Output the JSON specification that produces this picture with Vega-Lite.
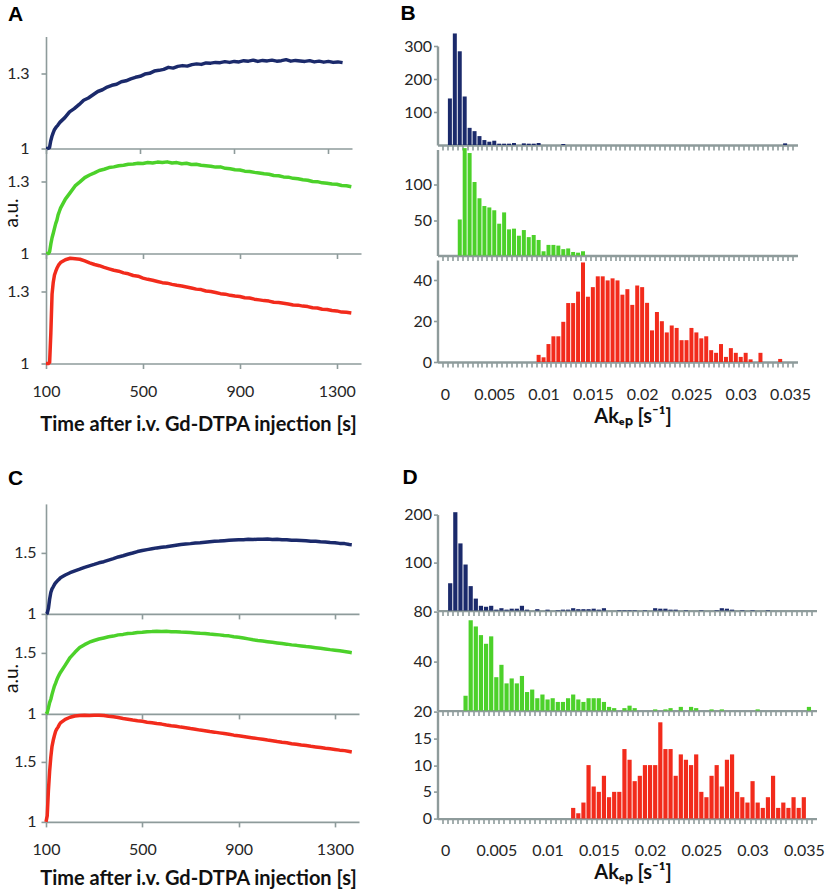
{
  "$schema": "https://vega.github.io/schema/vega-lite/v6.json",
  "padding": {"left": 2, "top": 2.5, "right": 0, "bottom": 0},
  "background": "white",
  "config": {
    "view": {"stroke": null},
    "font": "Lato",
    "axis": {"domainColor": "#8e9b9b", "tickColor": "#8e9b9b", "labelColor": "#262626", "labelFont": "Lato", "labelFontSize": 16, "grid": false, "labelFlush": false, "labelOverlap": false, "titleFont": "Lato", "titleColor": "#111", "domainWidth": 1.6, "tickWidth": 1.6}
  },
  "datasets": {
    "lA": [
      {"t":100,"n":1.000,"g":1.000,"r":1.000},{"t":105,"n":1.000,"g":1.000,"r":1.000},{"t":110,"n":1.001,"g":1.000,"r":1.000},{"t":115,"n":1.004,"g":1.008,"r":1.005},
      {"t":120,"n":1.030,"g":1.040,"r":1.128},{"t":125,"n":1.048,"g":1.066,"r":1.290},{"t":130,"n":1.062,"g":1.085,"r":1.340},{"t":135,"n":1.074,"g":1.105,"r":1.370},
      {"t":140,"n":1.081,"g":1.125,"r":1.385},{"t":145,"n":1.088,"g":1.140,"r":1.398},{"t":150,"n":1.093,"g":1.162,"r":1.408},{"t":155,"n":1.100,"g":1.176,"r":1.416},
      {"t":160,"n":1.106,"g":1.190,"r":1.422},{"t":180,"n":1.124,"g":1.228,"r":1.434},{"t":200,"n":1.147,"g":1.255,"r":1.440},{"t":220,"n":1.160,"g":1.283,"r":1.438},
      {"t":240,"n":1.176,"g":1.300,"r":1.436},{"t":260,"n":1.194,"g":1.318,"r":1.429},{"t":280,"n":1.203,"g":1.329,"r":1.421},{"t":300,"n":1.216,"g":1.338,"r":1.414},
      {"t":320,"n":1.229,"g":1.348,"r":1.409},{"t":340,"n":1.236,"g":1.353,"r":1.402},{"t":360,"n":1.247,"g":1.360,"r":1.396},{"t":380,"n":1.254,"g":1.363,"r":1.390},
      {"t":400,"n":1.258,"g":1.368,"r":1.386},{"t":420,"n":1.268,"g":1.370,"r":1.379},{"t":440,"n":1.272,"g":1.374,"r":1.375},{"t":460,"n":1.280,"g":1.375,"r":1.368},
      {"t":480,"n":1.286,"g":1.378,"r":1.365},{"t":500,"n":1.290,"g":1.377,"r":1.357},{"t":520,"n":1.299,"g":1.381,"r":1.352},{"t":540,"n":1.302,"g":1.379,"r":1.348},
      {"t":560,"n":1.311,"g":1.383,"r":1.343},{"t":580,"n":1.314,"g":1.381,"r":1.338},{"t":600,"n":1.318,"g":1.384,"r":1.336},{"t":620,"n":1.326,"g":1.379,"r":1.331},
      {"t":640,"n":1.323,"g":1.381,"r":1.327},{"t":660,"n":1.330,"g":1.376,"r":1.324},{"t":680,"n":1.333,"g":1.378,"r":1.320},{"t":700,"n":1.331,"g":1.373,"r":1.316},
      {"t":720,"n":1.337,"g":1.374,"r":1.311},{"t":740,"n":1.340,"g":1.370,"r":1.309},{"t":760,"n":1.338,"g":1.368,"r":1.303},{"t":780,"n":1.344,"g":1.366,"r":1.301},
      {"t":800,"n":1.343,"g":1.362,"r":1.297},{"t":820,"n":1.346,"g":1.363,"r":1.292},{"t":840,"n":1.345,"g":1.357,"r":1.290},{"t":860,"n":1.349,"g":1.355,"r":1.285},
      {"t":880,"n":1.346,"g":1.351,"r":1.282},{"t":900,"n":1.350,"g":1.350,"r":1.280},{"t":920,"n":1.348,"g":1.345,"r":1.275},{"t":940,"n":1.353,"g":1.344,"r":1.274},
      {"t":960,"n":1.351,"g":1.340,"r":1.269},{"t":980,"n":1.355,"g":1.337,"r":1.266},{"t":1000,"n":1.350,"g":1.334,"r":1.263},{"t":1020,"n":1.354,"g":1.332,"r":1.261},
      {"t":1040,"n":1.352,"g":1.327,"r":1.256},{"t":1060,"n":1.355,"g":1.326,"r":1.255},{"t":1080,"n":1.351,"g":1.321,"r":1.252},{"t":1100,"n":1.353,"g":1.320,"r":1.249},
      {"t":1120,"n":1.357,"g":1.315,"r":1.245},{"t":1140,"n":1.351,"g":1.313,"r":1.244},{"t":1160,"n":1.354,"g":1.309,"r":1.240},{"t":1180,"n":1.352,"g":1.307,"r":1.238},
      {"t":1200,"n":1.350,"g":1.302,"r":1.233},{"t":1220,"n":1.353,"g":1.301,"r":1.232},{"t":1240,"n":1.348,"g":1.296,"r":1.227},{"t":1260,"n":1.351,"g":1.294,"r":1.226},
      {"t":1280,"n":1.347,"g":1.291,"r":1.222},{"t":1300,"n":1.350,"g":1.290,"r":1.220},{"t":1320,"n":1.346,"g":1.285,"r":1.215},{"t":1340,"n":1.348,"g":1.284,"r":1.214},
      {"t":1360,"n":1.345,"g":1.280,"r":1.211}
    ],
    "lC": [
      {"t":100,"n":1.000,"g":1.000,"r":1.000},{"t":105,"n":1.005,"g":1.010,"r":1.050},{"t":110,"n":1.045,"g":1.050,"r":1.260},{"t":115,"n":1.120,"g":1.092,"r":1.420},
      {"t":120,"n":1.175,"g":1.120,"r":1.540},{"t":125,"n":1.205,"g":1.160,"r":1.630},{"t":130,"n":1.222,"g":1.195,"r":1.680},{"t":135,"n":1.240,"g":1.228,"r":1.720},
      {"t":140,"n":1.255,"g":1.252,"r":1.755},{"t":145,"n":1.265,"g":1.280,"r":1.775},{"t":150,"n":1.277,"g":1.302,"r":1.790},{"t":155,"n":1.285,"g":1.322,"r":1.810},
      {"t":160,"n":1.296,"g":1.340,"r":1.825},{"t":180,"n":1.318,"g":1.400,"r":1.855},{"t":200,"n":1.337,"g":1.462,"r":1.872},{"t":220,"n":1.352,"g":1.505,"r":1.882},
      {"t":240,"n":1.366,"g":1.544,"r":1.886},{"t":260,"n":1.381,"g":1.568,"r":1.888},{"t":280,"n":1.393,"g":1.588,"r":1.887},{"t":300,"n":1.405,"g":1.602,"r":1.889},
      {"t":320,"n":1.418,"g":1.614,"r":1.888},{"t":340,"n":1.427,"g":1.623,"r":1.886},{"t":360,"n":1.440,"g":1.632,"r":1.880},{"t":380,"n":1.452,"g":1.638,"r":1.876},
      {"t":400,"n":1.466,"g":1.648,"r":1.870},{"t":420,"n":1.476,"g":1.652,"r":1.862},{"t":440,"n":1.488,"g":1.660,"r":1.856},{"t":460,"n":1.498,"g":1.662,"r":1.849},
      {"t":480,"n":1.510,"g":1.668,"r":1.843},{"t":500,"n":1.518,"g":1.670,"r":1.838},{"t":520,"n":1.526,"g":1.674,"r":1.831},{"t":540,"n":1.533,"g":1.675,"r":1.826},
      {"t":560,"n":1.540,"g":1.678,"r":1.820},{"t":580,"n":1.546,"g":1.676,"r":1.815},{"t":600,"n":1.550,"g":1.677,"r":1.808},{"t":620,"n":1.556,"g":1.674,"r":1.802},
      {"t":640,"n":1.562,"g":1.674,"r":1.797},{"t":660,"n":1.568,"g":1.671,"r":1.790},{"t":680,"n":1.572,"g":1.670,"r":1.785},{"t":700,"n":1.575,"g":1.667,"r":1.778},
      {"t":720,"n":1.580,"g":1.664,"r":1.772},{"t":740,"n":1.583,"g":1.661,"r":1.765},{"t":760,"n":1.587,"g":1.660,"r":1.760},{"t":780,"n":1.591,"g":1.655,"r":1.753},
      {"t":800,"n":1.594,"g":1.652,"r":1.748},{"t":820,"n":1.596,"g":1.648,"r":1.742},{"t":840,"n":1.599,"g":1.643,"r":1.736},{"t":860,"n":1.602,"g":1.640,"r":1.730},
      {"t":880,"n":1.604,"g":1.633,"r":1.723},{"t":900,"n":1.606,"g":1.628,"r":1.718},{"t":920,"n":1.607,"g":1.622,"r":1.712},{"t":940,"n":1.610,"g":1.615,"r":1.706},
      {"t":960,"n":1.609,"g":1.608,"r":1.700},{"t":980,"n":1.611,"g":1.602,"r":1.694},{"t":1000,"n":1.610,"g":1.597,"r":1.688},{"t":1020,"n":1.612,"g":1.592,"r":1.682},
      {"t":1040,"n":1.608,"g":1.587,"r":1.677},{"t":1060,"n":1.610,"g":1.582,"r":1.670},{"t":1080,"n":1.606,"g":1.577,"r":1.664},{"t":1100,"n":1.607,"g":1.572,"r":1.659},
      {"t":1120,"n":1.603,"g":1.566,"r":1.652},{"t":1140,"n":1.602,"g":1.562,"r":1.647},{"t":1160,"n":1.600,"g":1.557,"r":1.641},{"t":1180,"n":1.598,"g":1.552,"r":1.636},
      {"t":1200,"n":1.595,"g":1.548,"r":1.630},{"t":1220,"n":1.594,"g":1.543,"r":1.625},{"t":1240,"n":1.590,"g":1.538,"r":1.620},{"t":1260,"n":1.588,"g":1.533,"r":1.613},
      {"t":1280,"n":1.584,"g":1.527,"r":1.609},{"t":1300,"n":1.582,"g":1.522,"r":1.604},{"t":1320,"n":1.577,"g":1.517,"r":1.598},{"t":1340,"n":1.575,"g":1.511,"r":1.594},
      {"t":1360,"n":1.568,"g":1.505,"r":1.587},{"t":1370,"n":1.566,"g":1.502,"r":1.583}
    ],
    "hB": [
      {"v":0.0005,"b":141,"g":0,"r":0},{"v":0.001,"b":338,"g":0,"r":0},{"v":0.0015,"b":284,"g":51,"r":0},{"v":0.002,"b":147,"g":152,"r":0},
      {"v":0.0025,"b":52,"g":145,"r":0},{"v":0.003,"b":42,"g":104,"r":0},{"v":0.0035,"b":27,"g":81,"r":0},{"v":0.004,"b":15,"g":70,"r":0},
      {"v":0.0045,"b":10,"g":68,"r":0},{"v":0.005,"b":13,"g":64,"r":0},{"v":0.0055,"b":4,"g":45,"r":0},{"v":0.006,"b":4,"g":61,"r":0},
      {"v":0.0065,"b":4,"g":37,"r":0},{"v":0.007,"b":6,"g":38,"r":0},{"v":0.0075,"b":0,"g":28,"r":0},{"v":0.008,"b":5,"g":36,"r":0},
      {"v":0.0085,"b":4,"g":26,"r":0},{"v":0.009,"b":4,"g":29,"r":0},{"v":0.0095,"b":6,"g":22,"r":3.5},{"v":0.01,"b":0,"g":6,"r":2.3},
      {"v":0.0105,"b":0,"g":15,"r":8.8},{"v":0.011,"b":0,"g":15,"r":12.6},{"v":0.0115,"b":0,"g":14,"r":12.6},{"v":0.012,"b":3,"g":9,"r":19.7},
      {"v":0.0125,"b":0,"g":10,"r":28.9},{"v":0.013,"b":0,"g":5,"r":28.9},{"v":0.0135,"b":0,"g":4,"r":34.5},{"v":0.014,"b":0,"g":6,"r":48.8},
      {"v":0.0145,"b":0,"g":0,"r":32},{"v":0.015,"b":0,"g":0,"r":36.7},{"v":0.0155,"b":0,"g":0,"r":42},{"v":0.016,"b":0,"g":0,"r":42},
      {"v":0.0165,"b":0,"g":0,"r":40},{"v":0.017,"b":0,"g":0,"r":41},{"v":0.0175,"b":0,"g":0,"r":40},{"v":0.018,"b":0,"g":0,"r":33},
      {"v":0.0185,"b":0,"g":0,"r":35.7},{"v":0.019,"b":0,"g":0,"r":28},{"v":0.0195,"b":0,"g":0,"r":37.5},{"v":0.02,"b":0,"g":0,"r":36.7},
      {"v":0.0205,"b":0,"g":0,"r":29},{"v":0.021,"b":0,"g":0,"r":15.5},{"v":0.0215,"b":0,"g":0,"r":24.5},{"v":0.022,"b":0,"g":0,"r":20},
      {"v":0.0225,"b":0,"g":0,"r":14.5},{"v":0.023,"b":0,"g":0,"r":17.9},{"v":0.0235,"b":0,"g":0,"r":16.7},{"v":0.024,"b":0,"g":0,"r":10.7},
      {"v":0.0245,"b":0,"g":0,"r":10.7},{"v":0.025,"b":0,"g":0,"r":16.7},{"v":0.0255,"b":0,"g":0,"r":14.5},{"v":0.026,"b":0,"g":0,"r":11.6},
      {"v":0.0265,"b":0,"g":0,"r":12.6},{"v":0.027,"b":0,"g":0,"r":5.8},{"v":0.0275,"b":0,"g":0,"r":4.5},{"v":0.028,"b":0,"g":0,"r":8.8},
      {"v":0.0285,"b":0,"g":0,"r":2.5},{"v":0.029,"b":0,"g":0,"r":6.8},{"v":0.0295,"b":0,"g":0,"r":4.5},{"v":0.03,"b":0,"g":0,"r":2.5},
      {"v":0.0305,"b":0,"g":0,"r":4.5},{"v":0.031,"b":0,"g":0,"r":1.3},{"v":0.032,"b":0,"g":0,"r":4.5},{"v":0.034,"b":0,"g":0,"r":1.5},
      {"v":0.0345,"b":5,"g":0,"r":0}
    ],
    "hD": [
      {"v":0.0005,"b":57,"g":0,"r":0},{"v":0.001,"b":205,"g":0,"r":0},{"v":0.0015,"b":140,"g":0,"r":0},{"v":0.002,"b":96,"g":12,"r":0},
      {"v":0.0025,"b":51,"g":73,"r":0},{"v":0.003,"b":25,"g":68,"r":0},{"v":0.0035,"b":10,"g":61,"r":0},{"v":0.004,"b":8,"g":54,"r":0},
      {"v":0.0045,"b":10,"g":60,"r":0},{"v":0.005,"b":2,"g":27,"r":0},{"v":0.0055,"b":5,"g":37,"r":0},{"v":0.006,"b":2,"g":22,"r":0},
      {"v":0.0065,"b":4,"g":26,"r":0},{"v":0.007,"b":4,"g":22,"r":0},{"v":0.0075,"b":10,"g":28,"r":0},{"v":0.008,"b":2,"g":15,"r":0},
      {"v":0.0085,"b":0,"g":17,"r":0},{"v":0.009,"b":3,"g":10,"r":0},{"v":0.0095,"b":0,"g":13,"r":0},{"v":0.01,"b":2,"g":9,"r":0},
      {"v":0.0105,"b":0,"g":10,"r":0},{"v":0.011,"b":1,"g":7,"r":0},{"v":0.0115,"b":2,"g":7,"r":0},{"v":0.012,"b":2,"g":10,"r":0},
      {"v":0.0125,"b":5,"g":13,"r":2},{"v":0.013,"b":3,"g":9,"r":1},{"v":0.0135,"b":3,"g":7,"r":3},{"v":0.014,"b":3,"g":10,"r":10},
      {"v":0.0145,"b":4,"g":10,"r":6},{"v":0.015,"b":2,"g":10,"r":5},{"v":0.0155,"b":5,"g":7,"r":8},{"v":0.016,"b":0,"g":3,"r":4},
      {"v":0.0165,"b":0,"g":2,"r":5},{"v":0.017,"b":1,"g":0,"r":5},{"v":0.0175,"b":1,"g":2,"r":13},{"v":0.018,"b":1,"g":4,"r":11},
      {"v":0.0185,"b":1,"g":2,"r":7},{"v":0.019,"b":0,"g":0,"r":8},{"v":0.0195,"b":1,"g":0,"r":10},{"v":0.02,"b":0,"g":0,"r":10},
      {"v":0.0205,"b":5,"g":1,"r":10},{"v":0.021,"b":4,"g":0,"r":18},{"v":0.0215,"b":4,"g":1,"r":13},{"v":0.022,"b":2,"g":2,"r":13},
      {"v":0.0225,"b":2,"g":0,"r":8},{"v":0.023,"b":0,"g":3,"r":12},{"v":0.0235,"b":1,"g":0,"r":11},{"v":0.024,"b":0,"g":3,"r":10},
      {"v":0.0245,"b":0,"g":2,"r":12},{"v":0.025,"b":1,"g":0,"r":5},{"v":0.0255,"b":0,"g":0,"r":4},{"v":0.026,"b":0,"g":1,"r":8},
      {"v":0.0265,"b":1,"g":0,"r":10},{"v":0.027,"b":5,"g":1,"r":6},{"v":0.0275,"b":4,"g":0,"r":11},{"v":0.028,"b":2,"g":0,"r":12},
      {"v":0.0285,"b":0,"g":0,"r":5},{"v":0.029,"b":1,"g":0,"r":4},{"v":0.0295,"b":0,"g":0,"r":3},{"v":0.03,"b":1,"g":0,"r":7},
      {"v":0.0305,"b":0,"g":1,"r":3},{"v":0.031,"b":0,"g":0,"r":2},{"v":0.0315,"b":1,"g":0,"r":4},{"v":0.032,"b":0,"g":0,"r":8},
      {"v":0.0325,"b":0,"g":0,"r":2},{"v":0.033,"b":0,"g":0,"r":3},{"v":0.0335,"b":0,"g":0,"r":2},{"v":0.034,"b":0,"g":0,"r":4},
      {"v":0.0345,"b":0,"g":0,"r":2},{"v":0.035,"b":0,"g":0,"r":4},{"v":0.0355,"b":0,"g":3,"r":0}
    ]
  },
  "spacing": 39.5,
  "hconcat": [
    {
      "spacing": 33.4,
      "vconcat": [
        {
          "spacing": 0, "bounds": "flush",
          "vconcat": [
            {
              "width": 306, "height": 112,
              "title": {"text": "A", "anchor": "start", "frame": "group", "dx": -38, "offset": 12, "font": "Liberation Sans", "fontSize": 21, "fontWeight": "bold", "color": "#000"},
              "data": {"name": "lA"},
              "mark": {"type": "line", "color": "#1b2a6b", "strokeWidth": 3.5, "strokeJoin": "round"},
              "encoding": {
                "x": {"field": "t", "type": "quantitative", "scale": {"domain": [100, 1400]}, "axis": {"values": [100, 500, 900, 1300], "labels": false, "title": null, "tickSize": 5}},
                "y": {"field": "n", "type": "quantitative", "scale": {"domain": [1, 1.45], "zero": false}, "axis": {"values": [1, 1.3], "format": "~g", "title": null, "tickSize": 5, "labelPadding": 12}}
              }
            },
            {
              "width": 315, "height": 105,
              "data": {"name": "lA"},
              "mark": {"type": "line", "color": "#4cd12a", "strokeWidth": 3.5, "strokeJoin": "round"},
              "encoding": {
                "x": {"field": "t", "type": "quantitative", "scale": {"domain": [100, 1400]}, "axis": {"values": [100, 500, 900, 1300], "labels": false, "title": null, "tickSize": 5}},
                "y": {"field": "g", "type": "quantitative", "scale": {"domain": [1, 1.44], "zero": false}, "axis": {"values": [1, 1.3], "format": "~g", "title": "a.u.", "titleFontWeight": "normal", "titleFontSize": 19, "titleX": -25, "titleY": 64, "tickSize": 5, "labelPadding": 12}}
              }
            },
            {
              "width": 315, "height": 110,
              "data": {"name": "lA"},
              "mark": {"type": "line", "color": "#f22b1c", "strokeWidth": 3.5, "strokeJoin": "round"},
              "encoding": {
                "x": {"field": "t", "type": "quantitative", "scale": {"domain": [100, 1400]}, "axis": {"values": [100, 500, 900, 1300], "format": "d", "title": "Time after i.v. Gd-DTPA injection [s]", "titleFontSize": 20, "titleFontWeight": "bold", "titlePadding": 15, "titleX": 152, "tickSize": 5, "labelPadding": 15}},
                "y": {"field": "r", "type": "quantitative", "scale": {"domain": [1, 1.46], "zero": false}, "axis": {"values": [1, 1.3], "format": "~g", "title": null, "tickSize": 5, "labelPadding": 12}}
              }
            }
          ]
        },
        {
          "spacing": 0, "bounds": "flush",
          "vconcat": [
            {
              "width": 313, "height": 110,
              "title": {"text": "C", "anchor": "start", "frame": "group", "dx": -38, "offset": 15, "font": "Liberation Sans", "fontSize": 21, "fontWeight": "bold", "color": "#000"},
              "data": {"name": "lC"},
              "mark": {"type": "line", "color": "#1b2a6b", "strokeWidth": 3.5, "strokeJoin": "round"},
              "encoding": {
                "x": {"field": "t", "type": "quantitative", "scale": {"domain": [100, 1400]}, "axis": {"values": [100, 500, 900, 1300], "labels": false, "title": null, "tickSize": 5}},
                "y": {"field": "n", "type": "quantitative", "scale": {"domain": [1, 1.9], "zero": false}, "axis": {"values": [1, 1.5], "format": "~g", "title": null, "tickSize": 5, "labelPadding": 5}}
              }
            },
            {
              "width": 313, "height": 100,
              "data": {"name": "lC"},
              "mark": {"type": "line", "color": "#4cd12a", "strokeWidth": 3.5, "strokeJoin": "round"},
              "encoding": {
                "x": {"field": "t", "type": "quantitative", "scale": {"domain": [100, 1400]}, "axis": {"values": [100, 500, 900, 1300], "labels": false, "title": null, "tickSize": 5}},
                "y": {"field": "g", "type": "quantitative", "scale": {"domain": [1, 1.82], "zero": false}, "axis": {"values": [1, 1.5], "format": "~g", "title": "a.u.", "titleFontWeight": "normal", "titleFontSize": 19, "titleX": -25, "titleY": 64, "tickSize": 5, "labelPadding": 5}}
              }
            },
            {
              "width": 313, "height": 108,
              "data": {"name": "lC"},
              "mark": {"type": "line", "color": "#f22b1c", "strokeWidth": 3.5, "strokeJoin": "round"},
              "encoding": {
                "x": {"field": "t", "type": "quantitative", "scale": {"domain": [100, 1400]}, "axis": {"values": [100, 500, 900, 1300], "format": "d", "title": "Time after i.v. Gd-DTPA injection [s]", "titleFontSize": 20, "titleFontWeight": "bold", "titlePadding": 11, "titleX": 152, "tickSize": 5, "labelPadding": 15}},
                "y": {"field": "r", "type": "quantitative", "scale": {"domain": [1, 1.9], "zero": false}, "axis": {"values": [1, 1.5], "format": "~g", "title": null, "tickSize": 5, "labelPadding": 5}}
              }
            }
          ]
        }
      ]
    },
    {
      "spacing": 40.1,
      "vconcat": [
        {
          "spacing": 4.5, "bounds": "flush",
          "vconcat": [
            {
              "width": 360, "height": 4.6,
              "title": {"text": "B", "anchor": "start", "frame": "group", "dx": -37, "offset": 13, "font": "Liberation Sans", "fontSize": 21, "fontWeight": "bold", "color": "#000"},
              "data": {"values": []},
              "mark": {"type": "point", "opacity": 0}
            },
            {
              "width": 360, "height": 99,
              "data": {"name": "hB"},
              "mark": {"type": "bar", "orient": "vertical", "width": 4, "color": "#1b2a6b"},
              "encoding": {
                "x": {"field": "v", "type": "quantitative", "scale": {"domain": [-0.00025, 0.03525]}, "axis": {"values": [-0.00025,0.00025,0.00075,0.00125,0.00175,0.00225,0.00275,0.00325,0.00375,0.00425,0.00475,0.00525,0.00575,0.00625,0.00675,0.00725,0.00775,0.00825,0.00875,0.00925,0.00975,0.01025,0.01075,0.01125,0.01175,0.01225,0.01275,0.01325,0.01375,0.01425,0.01475,0.01525,0.01575,0.01625,0.01675,0.01725,0.01775,0.01825,0.01875,0.01925,0.01975,0.02025,0.02075,0.02125,0.02175,0.02225,0.02275,0.02325,0.02375,0.02425,0.02475,0.02525,0.02575,0.02625,0.02675,0.02725,0.02775,0.02825,0.02875,0.02925,0.02975,0.03025,0.03075,0.03125,0.03175,0.03225,0.03275,0.03325,0.03375,0.03425,0.03475,0.03525], "labels": false, "title": null, "tickSize": 5, "domainWidth": 2.4}},
                "y": {"field": "b", "type": "quantitative", "stack": null, "scale": {"domain": [0, 300]}, "axis": {"values": [100, 200, 300], "title": null, "tickSize": 4, "labelPadding": 2, "domainWidth": 2.4}}
              }
            },
            {
              "width": 360, "height": 106,
              "data": {"name": "hB"},
              "mark": {"type": "bar", "orient": "vertical", "width": 4, "color": "#4cd12a"},
              "encoding": {
                "x": {"field": "v", "type": "quantitative", "scale": {"domain": [-0.00025, 0.03525]}, "axis": {"values": [-0.00025,0.00025,0.00075,0.00125,0.00175,0.00225,0.00275,0.00325,0.00375,0.00425,0.00475,0.00525,0.00575,0.00625,0.00675,0.00725,0.00775,0.00825,0.00875,0.00925,0.00975,0.01025,0.01075,0.01125,0.01175,0.01225,0.01275,0.01325,0.01375,0.01425,0.01475,0.01525,0.01575,0.01625,0.01675,0.01725,0.01775,0.01825,0.01875,0.01925,0.01975,0.02025,0.02075,0.02125,0.02175,0.02225,0.02275,0.02325,0.02375,0.02425,0.02475,0.02525,0.02575,0.02625,0.02675,0.02725,0.02775,0.02825,0.02875,0.02925,0.02975,0.03025,0.03075,0.03125,0.03175,0.03225,0.03275,0.03325,0.03375,0.03425,0.03475,0.03525], "labels": false, "title": null, "tickSize": 5, "domainWidth": 2.4}},
                "y": {"field": "g", "type": "quantitative", "stack": null, "scale": {"domain": [0, 150]}, "axis": {"values": [50, 100], "title": null, "tickSize": 4, "labelPadding": 2, "domainWidth": 2.4}}
              }
            },
            {
              "width": 360, "height": 102,
              "data": {"name": "hB"},
              "mark": {"type": "bar", "orient": "vertical", "width": 4, "color": "#f22b1c"},
              "encoding": {
                "x": {"field": "v", "type": "quantitative", "scale": {"domain": [-0.00025, 0.03525]}, "axis": {"values": [-0.00025,0.00025,0.00075,0.00125,0.00175,0.00225,0.00275,0.00325,0.00375,0.00425,0.00475,0.00525,0.00575,0.00625,0.00675,0.00725,0.00775,0.00825,0.00875,0.00925,0.00975,0.01025,0.01075,0.01125,0.01175,0.01225,0.01275,0.01325,0.01375,0.01425,0.01475,0.01525,0.01575,0.01625,0.01675,0.01725,0.01775,0.01825,0.01875,0.01925,0.01975,0.02025,0.02075,0.02125,0.02175,0.02225,0.02275,0.02325,0.02375,0.02425,0.02475,0.02525,0.02575,0.02625,0.02675,0.02725,0.02775,0.02825,0.02875,0.02925,0.02975,0.03025,0.03075,0.03125,0.03175,0.03225,0.03275,0.03325,0.03375,0.03425,0.03475,0.03525], "labelExpr": "(round((datum.value + 0.00025) * 2000) % 10 == 0) ? format(round((datum.value + 0.00025) * 2000) / 2000, '~g') : ''", "labelOffset": 2.5, "title": "Akₑₚ [s⁻¹]", "titleFontSize": 20, "titleFontWeight": "bold", "titlePadding": 4, "titleX": 195, "tickSize": 5, "labelPadding": 19, "domainWidth": 2.4}},
                "y": {"field": "r", "type": "quantitative", "stack": null, "scale": {"domain": [0, 50]}, "axis": {"values": [0, 20, 40], "title": null, "tickSize": 4, "labelPadding": 2, "domainWidth": 2.4}}
              }
            }
          ]
        },
        {
          "spacing": 1, "bounds": "flush",
          "vconcat": [
            {
              "width": 379, "height": 96,
              "title": {"text": "D", "anchor": "start", "frame": "group", "dx": -35, "offset": 19, "font": "Liberation Sans", "fontSize": 21, "fontWeight": "bold", "color": "#000"},
              "data": {"name": "hD"},
              "mark": {"type": "bar", "orient": "vertical", "width": 4.2, "color": "#1b2a6b"},
              "encoding": {
                "x": {"field": "v", "type": "quantitative", "scale": {"domain": [-0.00025, 0.03575]}, "axis": {"values": [-0.00025,0.00025,0.00075,0.00125,0.00175,0.00225,0.00275,0.00325,0.00375,0.00425,0.00475,0.00525,0.00575,0.00625,0.00675,0.00725,0.00775,0.00825,0.00875,0.00925,0.00975,0.01025,0.01075,0.01125,0.01175,0.01225,0.01275,0.01325,0.01375,0.01425,0.01475,0.01525,0.01575,0.01625,0.01675,0.01725,0.01775,0.01825,0.01875,0.01925,0.01975,0.02025,0.02075,0.02125,0.02175,0.02225,0.02275,0.02325,0.02375,0.02425,0.02475,0.02525,0.02575,0.02625,0.02675,0.02725,0.02775,0.02825,0.02875,0.02925,0.02975,0.03025,0.03075,0.03125,0.03175,0.03225,0.03275,0.03325,0.03375,0.03425,0.03475,0.03525,0.03575], "labels": false, "title": null, "tickSize": 5, "domainWidth": 2.4}},
                "y": {"field": "b", "type": "quantitative", "stack": null, "scale": {"domain": [0, 200]}, "axis": {"values": [100, 200], "title": null, "tickSize": 4, "labelPadding": 2, "domainWidth": 2.4}}
              }
            },
            {
              "width": 379, "height": 99,
              "data": {"name": "hD"},
              "mark": {"type": "bar", "orient": "vertical", "width": 4.2, "color": "#4cd12a"},
              "encoding": {
                "x": {"field": "v", "type": "quantitative", "scale": {"domain": [-0.00025, 0.03575]}, "axis": {"values": [-0.00025,0.00025,0.00075,0.00125,0.00175,0.00225,0.00275,0.00325,0.00375,0.00425,0.00475,0.00525,0.00575,0.00625,0.00675,0.00725,0.00775,0.00825,0.00875,0.00925,0.00975,0.01025,0.01075,0.01125,0.01175,0.01225,0.01275,0.01325,0.01375,0.01425,0.01475,0.01525,0.01575,0.01625,0.01675,0.01725,0.01775,0.01825,0.01875,0.01925,0.01975,0.02025,0.02075,0.02125,0.02175,0.02225,0.02275,0.02325,0.02375,0.02425,0.02475,0.02525,0.02575,0.02625,0.02675,0.02725,0.02775,0.02825,0.02875,0.02925,0.02975,0.03025,0.03075,0.03125,0.03175,0.03225,0.03275,0.03325,0.03375,0.03425,0.03475,0.03525,0.03575], "labels": false, "title": null, "tickSize": 5, "domainWidth": 2.4}},
                "y": {"field": "g", "type": "quantitative", "stack": null, "scale": {"domain": [0, 80]}, "axis": {"values": [40, 80], "title": null, "tickSize": 4, "labelPadding": 2, "domainWidth": 2.4}}
              }
            },
            {
              "width": 379, "height": 107,
              "data": {"name": "hD"},
              "mark": {"type": "bar", "orient": "vertical", "width": 4.2, "color": "#f22b1c"},
              "encoding": {
                "x": {"field": "v", "type": "quantitative", "scale": {"domain": [-0.00025, 0.03575]}, "axis": {"values": [-0.00025,0.00025,0.00075,0.00125,0.00175,0.00225,0.00275,0.00325,0.00375,0.00425,0.00475,0.00525,0.00575,0.00625,0.00675,0.00725,0.00775,0.00825,0.00875,0.00925,0.00975,0.01025,0.01075,0.01125,0.01175,0.01225,0.01275,0.01325,0.01375,0.01425,0.01475,0.01525,0.01575,0.01625,0.01675,0.01725,0.01775,0.01825,0.01875,0.01925,0.01975,0.02025,0.02075,0.02125,0.02175,0.02225,0.02275,0.02325,0.02375,0.02425,0.02475,0.02525,0.02575,0.02625,0.02675,0.02725,0.02775,0.02825,0.02875,0.02925,0.02975,0.03025,0.03075,0.03125,0.03175,0.03225,0.03275,0.03325,0.03375,0.03425,0.03475,0.03525,0.03575], "labelExpr": "(round((datum.value + 0.00025) * 2000) % 10 == 0) ? format(round((datum.value + 0.00025) * 2000) / 2000, '~g') : ''", "labelOffset": 2.6, "title": "Akₑₚ [s⁻¹]", "titleFontSize": 20, "titleFontWeight": "bold", "titlePadding": 4, "titleX": 195, "tickSize": 5, "labelPadding": 19, "domainWidth": 2.4}},
                "y": {"field": "r", "type": "quantitative", "stack": null, "scale": {"domain": [0, 20]}, "axis": {"values": [0, 5, 10, 15, 20], "title": null, "tickSize": 4, "labelPadding": 2, "domainWidth": 2.4}}
              }
            }
          ]
        }
      ]
    }
  ]
}
